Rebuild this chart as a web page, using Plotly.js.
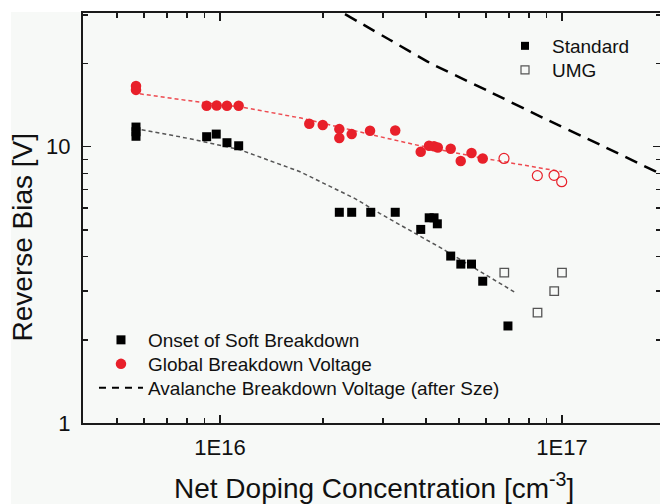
<!DOCTYPE html>
<html>
<head>
<meta charset="utf-8">
<script src="https://cdn.plot.ly/plotly-3.0.1.min.js"></script>
<style>
html,body{margin:0;padding:0;background:#ffffff;overflow:hidden;width:660px;height:504px;}
#chart{position:absolute;left:0px;top:0px;width:663px;height:504px;}
</style>
</head>
<body>
<div id="chart"></div>
<script>
// ---- Data (x: net doping in cm^-3, y: reverse bias in V) ----
// Global breakdown voltage, standard wafers (filled red circles)
const globalStdX = [5.68e15, 5.68e15, 9.14e15, 9.78e15, 1.048e16, 1.134e16, 1.824e16, 1.997e16,
  2.233e16, 2.233e16, 2.427e16, 2.746e16, 3.254e16, 3.863e16, 4.085e16, 4.225e16, 4.334e16,
  4.727e16, 5.057e16, 5.438e16, 5.864e16];
const globalStdY = [16.6, 16.06, 14.06, 14.1, 14.06, 14.06, 12.11, 11.98,
  11.58, 10.75, 11.11, 11.42, 11.45, 9.59, 10.08, 10.04, 9.94,
  9.83, 8.88, 9.49, 9.07];
// Global breakdown voltage, UMG wafers (open red circles)
const globalUmgX = [6.767e16, 8.47e16, 9.48e16, 9.98e16];
const globalUmgY = [9.07, 7.86, 7.88, 7.47];
// Onset of soft breakdown, standard wafers (filled black squares)
const softStdX = [5.68e15, 5.68e15, 5.68e15, 9.14e15, 9.75e15, 1.048e16, 1.134e16,
  2.233e16, 2.427e16, 2.759e16, 3.254e16, 3.863e16, 4.09e16, 4.225e16, 4.32e16,
  4.727e16, 5.06e16, 5.438e16, 5.864e16, 6.95e16];
const softStdY = [11.78, 11.33, 10.91, 10.87, 11.11, 10.34, 10.08,
  5.79, 5.79, 5.79, 5.79, 5.02, 5.53, 5.53, 5.26,
  4.02, 3.76, 3.76, 3.26, 2.245];
// Onset of soft breakdown, UMG wafers (open grey squares)
const softUmgX = [6.78e16, 8.48e16, 9.49e16, 1.0e17];
const softUmgY = [3.50, 2.51, 3.00, 3.50];
// Fit guide lines
const fitGlobalX = [5.83e15, 8.17e15, 1.144e16, 1.714e16, 2.937e16, 3.845e16, 5.758e16, 1.0e17];
const fitGlobalY = [15.54, 14.66, 13.94, 12.72, 10.87, 10.08, 9.13, 8.12];
const fitSoftX = [5.90e15, 8.17e15, 1.144e16, 1.714e16, 2.482e16, 2.937e16, 4.399e16, 7.29e16];
const fitSoftY = [11.52, 10.69, 9.75, 8.12, 6.49, 5.73, 4.32, 2.97];
// Avalanche breakdown voltage (after Sze)
const avalX = [2.32e16, 3.142e16, 4.111e16, 6.16e16, 8.8e16, 1.291e17, 1.934e17];
const avalY = [30.2, 24.34, 20.11, 15.79, 12.72, 10.17, 7.99];
// Tick labels
const xTickVals = [1e16, 1e17];
const xTickText = ['1E16', '1E17'];
const yTickVals = [1, 10];
const yTickText = ['1', '10'];
const xMinorVals = [5e15, 6e15, 7e15, 8e15, 9e15, 2e16, 3e16, 4e16, 5e16, 6e16, 7e16, 8e16, 9e16, 2e17];
const yMinorVals = [2, 3, 4, 5, 6, 7, 8, 9, 20, 30];
// Legend labels
const legendMain = ['Onset of Soft Breakdown', 'Global Breakdown Voltage', 'Avalanche Breakdown Voltage (after Sze)'];
const legendType = ['Standard', 'UMG'];

const RED = '#e8202a';
const FONT = 'Arial, "Liberation Sans", sans-serif';
const INK = '#111111';

const traces = [
  {x: fitGlobalX, y: fitGlobalY, mode: 'lines', line: {color: '#ee4a50', width: 1.5, dash: '4px,3px'}, showlegend: false, hoverinfo: 'skip'},
  {x: fitSoftX, y: fitSoftY, mode: 'lines', line: {color: '#555555', width: 1.5, dash: '4px,3px'}, showlegend: false, hoverinfo: 'skip'},
  {x: avalX, y: avalY, mode: 'lines', showlegend: false,
   line: {color: '#000000', width: 2.5, dash: '13px,8px', shape: 'spline', smoothing: 0.6}},
  {x: softStdX, y: softStdY, mode: 'markers', name: legendMain[0], legend: 'legend',
   marker: {symbol: 'square', size: 9, color: '#000000', line: {width: 0}}},
  {x: globalStdX, y: globalStdY, mode: 'markers', name: legendMain[1], legend: 'legend3',
   marker: {symbol: 'circle', size: 10.5, color: RED, line: {width: 0}}},
  {x: [null], y: [null], mode: 'lines', name: legendMain[2], legend: 'legend4',
   line: {color: '#000000', width: 2, dash: '7px,6px'}},
  {x: softUmgX, y: softUmgY, mode: 'markers', showlegend: false,
   marker: {symbol: 'square-open', size: 8.5, color: '#555555', line: {width: 1.3}}},
  {x: globalUmgX, y: globalUmgY, mode: 'markers', showlegend: false,
   marker: {symbol: 'circle-open', size: 10, color: RED, line: {width: 1.2}}},
  {x: [null], y: [null], mode: 'markers', name: legendType[0], legend: 'legend2',
   marker: {symbol: 'square', size: 8, color: '#000000', line: {width: 0}}},
  {x: [null], y: [null], mode: 'markers', name: legendType[1], legend: 'legend5',
   marker: {symbol: 'square-open', size: 8, color: '#555555', line: {width: 1.2}}}
];

const axisCommon = {
  showgrid: false, zeroline: false, showline: true, linecolor: '#1a1a1a', linewidth: 2,
  mirror: 'ticks', ticks: 'inside', ticklen: 8, tickwidth: 1.5, tickcolor: '#1a1a1a',
  tickfont: {family: FONT, size: 22, color: INK}, tickmode: 'array'
};

function legendAt(x, y) {
  return {
    x: x, y: y, xanchor: 'left', yanchor: 'top',
    bgcolor: 'rgba(0,0,0,0)', borderwidth: 0, itemwidth: 44,
    font: {family: FONT, size: 19, color: INK}
  };
}

const layout = {
  width: 663, height: 504,
  margin: {l: 83, r: 2, t: 13, b: 81},
  paper_bgcolor: '#f7f9f7', plot_bgcolor: '#f7f9f7',
  font: {family: FONT, color: INK},
  xaxis: Object.assign({}, axisCommon, {
    type: 'log', range: [15.5994, 17.2895],
    tickvals: xTickVals, ticktext: xTickText, ticklabelstandoff: 4,
    minor: {tickmode: 'array', tickvals: xMinorVals, ticks: 'inside', ticklen: 5, tickwidth: 1.5, tickcolor: '#1a1a1a', showgrid: false}
  }),
  yaxis: Object.assign({}, axisCommon, {
    type: 'log', range: [0, 1.484],
    tickvals: yTickVals, ticktext: yTickText, ticklabelstandoff: 6,
    minor: {tickmode: 'array', tickvals: yMinorVals, ticks: 'inside', ticklen: 5, tickwidth: 1.5, tickcolor: '#1a1a1a', showgrid: false}
  }),
  legend: legendAt(0.019, 0.2488),
  legend3: legendAt(0.019, 0.1902),
  legend4: legendAt(0.019, 0.1317),
  legend2: legendAt(0.718, 0.9659),
  legend5: legendAt(0.718, 0.9073),
  shapes: [
    {type: 'rect', xref: 'paper', yref: 'paper', x0: -0.15, x1: -0.1246, y0: -0.21, y1: 1.04,
     fillcolor: '#ffffff', line: {width: 0}, layer: 'below'},
    {type: 'rect', xref: 'paper', yref: 'paper', x0: -0.15, x1: 1.01, y0: 1.0024, y1: 1.04,
     fillcolor: '#ffffff', line: {width: 0}, layer: 'below'}
  ],
  annotations: [
    {text: 'Reverse Bias [V]', xref: 'paper', yref: 'paper', x: -0.1047, y: 0.4537,
     xanchor: 'center', yanchor: 'middle', textangle: -90, showarrow: false,
     font: {family: FONT, size: 28, color: INK}},
    {text: 'Net Doping Concentration [cm<sup>-3</sup>]', xref: 'paper', yref: 'paper', x: 0.5035, y: -0.1525,
     xanchor: 'center', yanchor: 'middle', showarrow: false,
     font: {family: FONT, size: 28, color: INK}}
  ]
};

Plotly.newPlot('chart', traces, layout, {displayModeBar: false, staticPlot: true});
</script>
</body>
</html>
